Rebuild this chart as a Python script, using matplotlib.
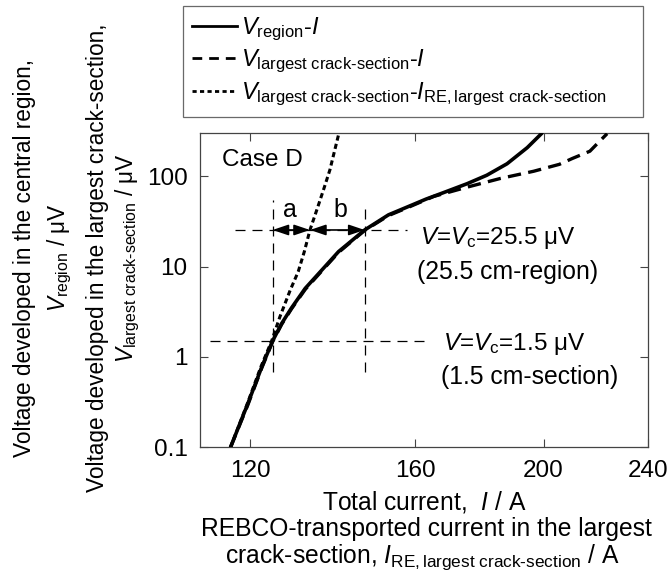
import matplotlib

matplotlib.use("Agg")
import matplotlib.pyplot as plt
from matplotlib.lines import Line2D

plt.rcParams["font.family"] = "Liberation Sans"
plt.rcParams["mathtext.fontset"] = "custom"
plt.rcParams["mathtext.rm"] = "Liberation Sans"
plt.rcParams["mathtext.it"] = "Liberation Sans:italic"
plt.rcParams["font.size"] = 17

# V_region - I
i_region = [116.0, 119.5, 122.5, 124.8, 126.8, 129.0, 132.1, 136.0, 140.0, 146.5,
            152.7, 158.1, 163.0, 168.0, 175.1, 181.2, 187.7, 194.4, 199.4]
v_region = [0.10, 0.30, 0.78, 1.50, 2.35, 3.5, 5.75, 9.2, 14.7, 25.5,
            37.5, 46.4, 56.0, 66.0, 83.0, 103.0, 138.0, 208.0, 300.0]

# V_largest crack-section - I
i_crack = [116.0, 119.5, 122.5, 124.8, 126.8, 129.0, 132.1, 136.0, 140.0, 146.5,
           152.7, 158.1, 165.2, 175.1, 185.6, 196.6, 205.6, 210.3, 216.8, 220.5, 223.4]
v_crack = [0.10, 0.29, 0.76, 1.47, 2.3, 3.42, 5.6, 9.0, 14.4, 25.2,
           36.8, 45.5, 60.0, 76.0, 95.0, 114.0, 136.0, 158.0, 190.0, 245.0, 297.0]

# V_largest crack-section - I_RE,largest crack-section
i_re = [116.0, 119.4, 122.3, 124.6, 126.4, 128.7, 130.5, 131.9, 133.2, 134.9,
        136.5, 137.9, 139.1, 140.0]
v_re = [0.10, 0.30, 0.78, 1.50, 2.78, 5.5, 8.8, 14.7, 25.5, 44.0,
        74.0, 118.0, 198.0, 290.0]

# criterion voltages and the currents where each curve reaches them
vc_region, vc_section = 25.5, 1.5
ic_section = 124.8
ic_re = 133.2
ic_region = 146.5

fig = plt.figure(figsize=(6.72, 5.77), dpi=100)
ax = fig.add_axes([200 / 672, 1 - 447.3 / 577, 448.3 / 672, 314 / 577])

ax.plot(i_region, v_region, color="k", lw=2.6, solid_capstyle="round",
        solid_joinstyle="round", zorder=4)
ax.plot(i_crack, v_crack, color="k", lw=2.4, ls=(0, (4, 2.2)), zorder=3)
ax.plot(i_re, v_re, color="k", lw=2.2, ls=(0, (1.7, 1.1)), zorder=3)

ref = dict(color="k", lw=0.9, ls=(0, (8, 5.6)), zorder=1)
ax.plot([116.9, 157.7], [vc_region, vc_region], **ref)
ax.plot([111.9, 164.3], [vc_section, vc_section], **ref)
ax.plot([ic_section, ic_section], [0.68, 55.0], **ref)
ax.plot([ic_region, ic_region], [0.68, 48.0], **ref)

arrow = dict(arrowstyle="<|-|>,head_length=0.8,head_width=0.27", color="k", lw=1.2,
             mutation_scale=12, shrinkA=0, shrinkB=0)
ax.annotate("", xy=(ic_section, vc_region), xytext=(ic_re, vc_region), arrowprops=arrow)
ax.annotate("", xy=(ic_re, vc_region), xytext=(ic_region, vc_region), arrowprops=arrow)
ax.text(128.7, 42.7, "a", ha="center", va="center", fontsize=18)
ax.text(140.5, 42.7, "b", ha="center", va="center", fontsize=18)

ax.text(0.048, 0.915, "Case D", transform=ax.transAxes, ha="left", va="center", fontsize=17.5)
ax.text(161.4, 20.8, r"$V$=$V_{\rm c}$=25.5 μV", ha="left", va="center", fontsize=17.5)
ax.text(160.5, 8.8, "(25.5 cm-region)", ha="left", va="center", fontsize=17.8)
ax.text(168.0, 1.41, r"$V$=$V_{\rm c}$=1.5 μV", ha="left", va="center", fontsize=17.5)
ax.text(167.3, 0.6, "(1.5 cm-section)", ha="left", va="center", fontsize=17.8)

ax.set_xscale("log")
ax.set_yscale("log")
ax.set_xlim(110, 240)
ax.set_ylim(0.1, 300)
ax.set_xticks([120, 160, 200, 240])
ax.set_xticklabels(["120", "160", "200", "240"])
ax.set_yticks([0.1, 1, 10, 100])
ax.set_yticklabels(["0.1", "1", "10", "100"])
ax.minorticks_off()
ax.tick_params(direction="in", length=6, width=0.8, top=True, right=True,
               color="#444444", labelsize=17.5, pad=9)
for s in ax.spines.values():
    s.set_color("#444444")
    s.set_linewidth(0.9)

fig.text(424 / 672, 1 - 502 / 577, r"Total current,  $I$ / A", ha="center", va="center", fontsize=17.7)
fig.text(426 / 672, 1 - 529 / 577, "REBCO-transported current in the largest",
         ha="center", va="center", fontsize=17.7)
fig.text(422 / 672, 1 - 557 / 577, r"crack-section, $I_{\rm RE,largest\ crack\text{-}section}$ / A",
         ha="center", va="center", fontsize=17.7)

ylab = [
    (25, "Voltage developed in the central region,"),
    (60, r"$V_{\rm region}$ / μV"),
    (98, "Voltage developed in the largest crack-section,"),
    (128, r"$V_{\rm largest\ crack\text{-}section}$ / μV"),
]
for x, s in ylab:
    fig.text(x / 672, 1 - 258 / 577, s, rotation=90, ha="center", va="center", fontsize=16.3)

handles = [
    Line2D([], [], color="k", lw=2.0),
    Line2D([], [], color="k", lw=2.0, ls=(0, (3.5, 2.5))),
    Line2D([], [], color="k", lw=2.0, ls=(0, (1.5, 1.2))),
]
labels = [
    r"$V_{\rm region}$-$I$",
    r"$V_{\rm largest\ crack\text{-}section}$-$I$",
    r"$V_{\rm largest\ crack\text{-}section}$-$I_{\rm RE,largest\ crack\text{-}section}$",
]
leg_top = 1 - 6 / 577
leg = fig.legend(handles, labels, loc="upper left",
                 bbox_to_anchor=(183 / 672, leg_top - 0.1, 460 / 672, 0.1),
                 frameon=True, fancybox=False, edgecolor="#444444", fontsize=17,
                 handlelength=1.9, handletextpad=0.15, borderaxespad=0,
                 borderpad=0.4, labelspacing=0.22, mode="expand")
leg.get_frame().set_linewidth(0.9)

fig.savefig("out.png", dpi=100)
